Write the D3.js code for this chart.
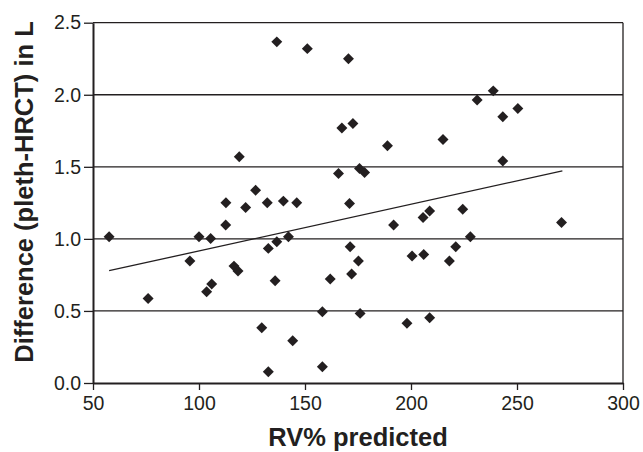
<!DOCTYPE html>
<html lang="en">
<head>
  <meta charset="UTF-8">
  <title>Difference vs RV% predicted</title>
  <script src="https://d3js.org/d3.v7.min.js"></script>
  <style>
    body { margin: 0; background: #fff; }
    text { font-family: "Liberation Sans", Arial, sans-serif; fill: #231f20; }
    .tick text { font-size: 19.5px; }
    .axis-title { font-size: 25.5px; font-weight: bold; }
    .grid line { stroke: #231f20; stroke-width: 1.3px; }
  </style>
</head>
<body>
  <svg width="643" height="452"></svg>
  <script>
const rvPredicted = [57.6, 76, 95.7, 100, 105.5, 103.6, 106, 112.6, 112.7, 116.5,
  118.4, 119, 122, 126.7, 132.2, 132.7, 136.7, 135.9, 129.6, 132.7,
  136.7, 139.8, 142.2, 144.2, 146.1, 151.1, 158.2, 158.2, 161.9, 165.8,
  167.4, 170.5, 171, 171.3, 172, 172.6, 175.2, 175.7, 176, 178.1,
  188.9, 191.8, 198.1, 200.5, 205.7, 206, 208.8, 208.8, 215.1, 218.1,
  221.1, 224.4, 228, 231.2, 238.8, 243.3, 243.3, 250.4, 271];
const difference = [1.015, 0.587, 0.846, 1.015, 1.003, 0.633, 0.687, 1.096, 1.25, 0.811,
  0.777, 1.57, 1.218, 1.338, 1.25, 0.934, 0.98, 0.71, 0.384, 0.078,
  2.367, 1.262, 1.015, 0.293, 1.25, 2.32, 0.495, 0.113, 0.721, 1.454,
  1.77, 2.25, 1.246, 0.945, 0.756, 1.80, 0.846, 1.489, 0.483, 1.461,
  1.646, 1.096, 0.414, 0.881, 1.149, 0.892, 1.193, 0.453, 1.69, 0.846,
  0.945, 1.205, 1.015, 1.963, 2.027, 1.847, 1.54, 1.905, 1.114];
// trend line end points as drawn
const trendX = [57.6, 271.4];
const trendY = [0.779, 1.472];
const xTicks = [50, 100, 150, 200, 250, 300];
const yTicks = [0, 0.5, 1.0, 1.5, 2.0, 2.5];

const margin = { top: 22.7, right: 20, bottom: 69, left: 93 };
const width = 643, height = 452;
const svg = d3.select("svg");

const x = d3.scaleLinear().domain([50, 300]).range([margin.left, width - margin.right]);
const y = d3.scaleLinear().domain([0, 2.5]).range([height - margin.bottom, margin.top]);

// horizontal grid lines
svg.append("g").attr("class", "grid")
  .selectAll("line")
  .data(yTicks.slice(1))
  .join("line")
  .attr("x1", x(50)).attr("x2", x(300))
  .attr("y1", d => y(d)).attr("y2", d => y(d));

// right border
svg.append("line")
  .attr("x1", x(300)).attr("x2", x(300))
  .attr("y1", y(0)).attr("y2", y(2.5))
  .attr("stroke", "#231f20").attr("stroke-width", 1.3);

const xAxis = svg.append("g")
  .attr("transform", `translate(0,${y(0)})`)
  .call(d3.axisBottom(x).tickValues(xTicks).tickFormat(d3.format("d")).tickSize(7).tickSizeOuter(0).tickPadding(6));
const yAxis = svg.append("g")
  .attr("transform", `translate(${x(50)},0)`)
  .call(d3.axisLeft(y).tickValues(yTicks).tickFormat(d3.format(".1f")).tickSize(9).tickSizeOuter(0).tickPadding(3));
[xAxis, yAxis].forEach(a => {
  a.select(".domain").attr("stroke", "#231f20").attr("stroke-width", 2);
  a.selectAll(".tick line").attr("stroke", "#231f20").attr("stroke-width", 1.3);
  a.selectAll(".tick text").attr("fill", "#231f20");
});

// trend line
svg.append("line")
  .attr("x1", x(trendX[0])).attr("y1", y(trendY[0]))
  .attr("x2", x(trendX[1])).attr("y2", y(trendY[1]))
  .attr("stroke", "#231f20").attr("stroke-width", 1.3);

// diamond markers
const diamond = d3.symbol().type(d3.symbolSquare).size(60);
svg.append("g")
  .selectAll("path")
  .data(rvPredicted.map((v, i) => [v, difference[i]]))
  .join("path")
  .attr("d", diamond)
  .attr("fill", "#231f20")
  .attr("transform", d => `translate(${x(d[0])},${y(d[1])}) rotate(45)`);

svg.append("text")
  .attr("class", "axis-title")
  .attr("x", (x(50) + x(300)) / 2)
  .attr("y", 446)
  .attr("text-anchor", "middle")
  .text("RV% predicted");

svg.append("text")
  .attr("class", "axis-title")
  .attr("transform", "translate(33,192) rotate(-90)")
  .attr("text-anchor", "middle")
  .text("Difference (pleth-HRCT) in L");
  </script>
</body>
</html>
